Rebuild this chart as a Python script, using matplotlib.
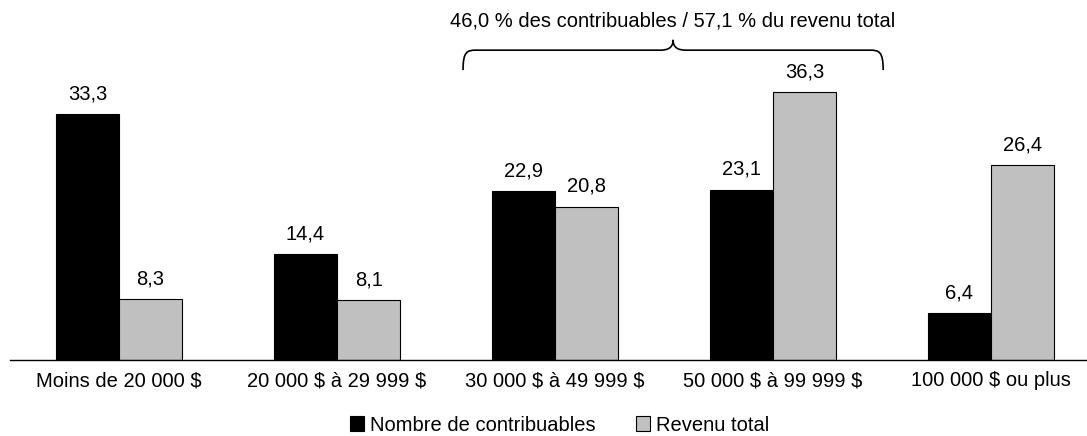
import matplotlib
matplotlib.use("Agg")
import matplotlib.pyplot as plt
from matplotlib.path import Path
from matplotlib.patches import PathPatch, Patch
import numpy as np

plt.rcParams['font.family'] = ['Liberation Sans', 'DejaVu Sans']
plt.rcParams['text.parse_math'] = False

categories = ["Moins de 20 000 $", "20 000 $ à 29 999 $", "30 000 $ à 49 999 $",
              "50 000 $ à 99 999 $", "100 000 $ ou plus"]
contribuables = [33.3, 14.4, 22.9, 23.1, 6.4]
revenu = [8.3, 8.1, 20.8, 36.3, 26.4]
series_names = ["Nombre de contribuables", "Revenu total"]
brace_text = "46,0 % des contribuables / 57,1 % du revenu total"

W, H = 1087, 436
fig = plt.figure(figsize=(W/100, H/100), dpi=100)
ax = fig.add_axes([10/W, (H-360)/H, (1087-10)/W, 360/H])

x = np.arange(len(categories))
bw = 0.29
fs = 14.5
ax.bar(x - bw/2, contribuables, bw, color="black", edgecolor="black", linewidth=0.8)
ax.bar(x + bw/2, revenu, bw, color="#C0C0C0", edgecolor="black", linewidth=0.8)

def fmt(v):
    return f"{v:.1f}".replace(".", ",")

for xs, vals in ((x - bw/2, contribuables), (x + bw/2, revenu)):
    for xi, v in zip(xs, vals):
        ax.text(xi, v + 2.0, fmt(v), ha="center", va="baseline", fontsize=fs)

ax.set_xlim(-0.5, 4.44)
ax.set_ylim(0, 48.8)
for s in ["top", "right", "left"]:
    ax.spines[s].set_visible(False)
ax.spines["bottom"].set_linewidth(1.0)
ax.set_yticks([])
ax.set_xticks(x)
ax.set_xticklabels(categories, fontsize=fs)
ax.tick_params(axis="x", length=0, pad=8)

# brace
xl, xr = 1.578, 3.505
xm = (xl + xr) / 2
y0, y1, yt = 39.3, 42.0, 43.4
dx = 0.06
verts = [(xl, y0), (xl, y1 - 0.2), (xl + dx*0.3, y1), (xl + dx, y1),
         (xm - dx, y1), (xm - dx*0.4, y1), (xm, y1 + 0.3), (xm, yt),
         (xm, y1 + 0.3), (xm + dx*0.4, y1), (xm + dx, y1),
         (xr - dx, y1), (xr - dx*0.3, y1), (xr, y1 - 0.2), (xr, y0)]
codes = [Path.MOVETO, Path.CURVE4, Path.CURVE4, Path.CURVE4,
         Path.LINETO, Path.CURVE4, Path.CURVE4, Path.CURVE4,
         Path.CURVE4, Path.CURVE4, Path.CURVE4,
         Path.LINETO, Path.CURVE4, Path.CURVE4, Path.CURVE4]
ax.add_patch(PathPatch(Path(verts, codes), facecolor="none", edgecolor="black",
                       linewidth=1.2, clip_on=False))
ax.text(xm, 45.9, brace_text, ha="center", va="center", fontsize=fs, clip_on=False)

handles = [Patch(facecolor="black", edgecolor="black", linewidth=0.8),
           Patch(facecolor="#C0C0C0", edgecolor="black", linewidth=0.8)]
fig.legend(handles, series_names, loc="center", bbox_to_anchor=(560/W, 1 - 425/H),
           ncol=2, frameon=False, fontsize=fs, handlelength=0.7, handleheight=0.7,
           handletextpad=0.3, columnspacing=2.0, borderaxespad=0)

fig.savefig("out.png", dpi=100)
